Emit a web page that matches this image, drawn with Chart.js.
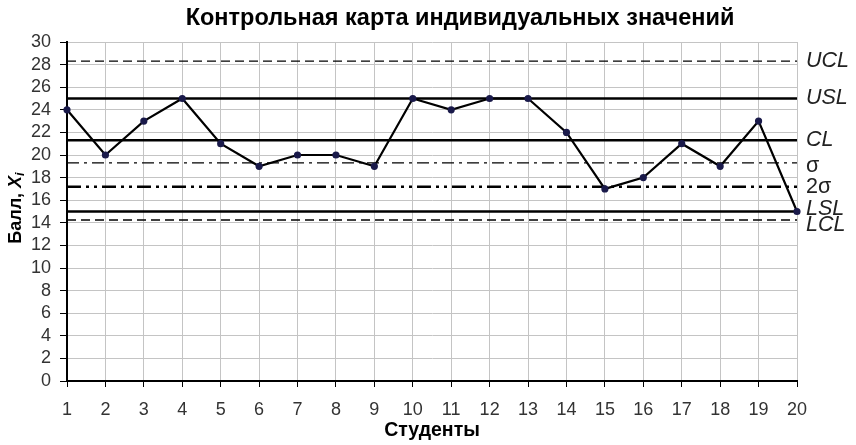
<!DOCTYPE html>
<html><head><meta charset="utf-8">
<script src="https://cdn.jsdelivr.net/npm/chart.js@4/dist/chart.umd.min.js"></script>
<style>html,body{margin:0;padding:0;background:#fff}#w{width:856px;height:445px}</style>
</head><body><div id="w"><canvas id="c"></canvas></div>
<script>
const students = ['1','2','3','4','5','6','7','8','9','10','11','12','13','14','15','16','17','18','19','20'];
const scores = [24,20,23,25,21,19,20,20,19,25,24,25,25,22,17,18,21,19,23,15];
const limitNames = ['UCL','USL','CL','σ','2σ','LSL','LCL'];
const limitValues = [28.3,25,21.3,19.3,17.2,15,14.25];
const limitDash = [[9,5],[],[],[12,5,3,5],[14,5,3,5,3,5],[],[9,5]];
const limitWidth = [1.3,2.5,2.5,1.3,2.5,2.5,1.3];
const chartTitle = 'Контрольная карта индивидуальных значений';

const F = "'Liberation Sans', Arial, sans-serif";
const limitSets = limitNames.map((n,i)=>({
  label:n, data: students.map(()=>limitValues[i]), borderColor:'#000', borderWidth:limitWidth[i],
  borderDash:limitDash[i], pointRadius:0, fill:false, order:2
}));

const extras = {
  id:'extras',
  afterDraw(chart){
    const ctx=chart.ctx, y=chart.scales.y, a=chart.chartArea;
    ctx.save();
    // title
    ctx.fillStyle='#000';
    ctx.font="bold 23.5px "+F;
    ctx.textAlign='center'; ctx.textBaseline='middle';
    ctx.fillText(chartTitle, 460, 19);
    // right labels
    ctx.fillStyle='#222';
    ctx.textAlign='left';
    const off={'UCL':0,'USL':0,'CL':0,'σ':3,'2σ':0,'LSL':-2,'LCL':5};
    limitNames.forEach((n,i)=>{
      ctx.font = (n.includes('σ') ? "" : "italic ") + "21.5px " + F;
      ctx.fillText(n, a.right+9, y.getPixelForValue(limitValues[i])+off[n]);
    });
    // y axis title
    ctx.translate(16,208);
    ctx.rotate(-Math.PI/2);
    ctx.fillStyle='#000';
    const t1='Балл, ', t2='X', t3='i';
    ctx.font="bold 18px "+F; const w1=ctx.measureText(t1).width;
    ctx.font="bold italic 18px "+F; const w2=ctx.measureText(t2).width;
    ctx.font="bold italic 13px "+F; const w3=ctx.measureText(t3).width;
    let x=-(w1+w2+w3)/2;
    ctx.textAlign='left';
    ctx.font="bold 18px "+F; ctx.fillText(t1,x,0); x+=w1;
    ctx.font="bold italic 18px "+F; ctx.fillText(t2,x,0); x+=w2;
    ctx.font="bold italic 13px "+F; ctx.fillText(t3,x,4);
    ctx.restore();
  }
};

new Chart(document.getElementById('c'),{
  type:'line',
  data:{labels:students, datasets:[
    {label:'Xi', data:scores, borderColor:'#000', borderWidth:2.2, pointRadius:2.5,
     pointBackgroundColor:'#1a1a4a', pointBorderColor:'#1a1a4a', tension:0, order:1},
    ...limitSets
  ]},
  options:{
    responsive:true, maintainAspectRatio:false, animation:false,
    layout:{padding:{left:0,right:59,top:42,bottom:0}},
    plugins:{ legend:{display:false}, tooltip:{enabled:false}, title:{display:false} },
    scales:{
      x:{offset:false,
        afterFit(s){ s.height = 64; },
        grid:{color:'#c4c4c4', drawTicks:true, tickLength:6, tickColor:'#000'},
        border:{color:'#000', width:2},
        ticks:{font:{family:F,size:18}, color:'#333', padding:12, maxRotation:0, autoSkip:false},
        title:{display:true, text:'Студенты', font:{family:F,size:19.5,weight:'bold'}, color:'#000', padding:{top:0,bottom:3}}
      },
      y:{min:0,max:30,
        afterFit(s){ s.width = 67; },
        grid:{color:'#c4c4c4', tickLength:7, tickColor:'#000'},
        border:{color:'#000', width:2},
        ticks:{stepSize:2, autoSkip:false, font:{family:F,size:18}, color:'#333', padding:9},
      }
    }
  },
  plugins:[extras]
});
</script></body></html>
